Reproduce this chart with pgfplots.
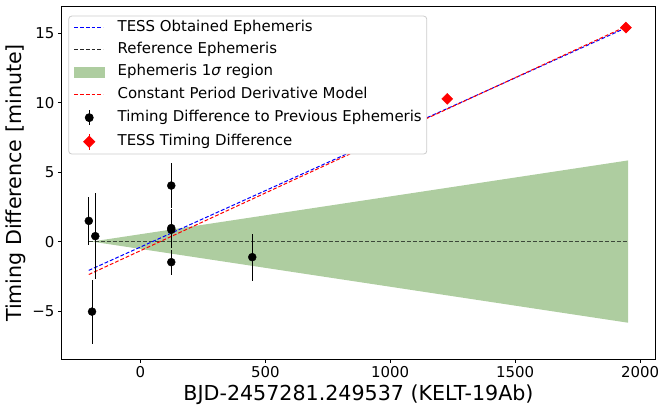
\documentclass[border=0pt]{standalone}
\usepackage{fontspec}
\setmainfont{DejaVu Sans}
\usepackage{pgfplots}
\pgfplotsset{compat=1.18}
\definecolor{sigmagreen}{RGB}{52,130,17}
\definecolor{patchgreen}{RGB}{174,205,160}
\definecolor{refline}{RGB}{60,72,58}
\definecolor{pureblue}{RGB}{0,0,255}
\definecolor{legbg}{RGB}{255,255,255}
\pgfplotsset{
  blueleg/.style={legend image code/.code={\begin{scope}\color{pureblue}\pgfsetstrokecolor{pureblue}\draw[draw=pureblue, sharp corners, line width=1.1bp, dash pattern=on 3.8bp off 2bp] (0bp,0bp)--(29bp,0bp);\end{scope}}},
  blackleg/.style={legend image code/.code={\draw[black!85, sharp corners, line width=1.1bp, dash pattern=on 3.8bp off 2bp] (0bp,0bp)--(29bp,0bp);}},
  redleg/.style={legend image code/.code={\draw[red, sharp corners, line width=1.1bp, dash pattern=on 3.8bp off 2bp] (0bp,0bp)--(29bp,0bp);}},
  myptleg/.style={legend image code/.code={\draw[black, sharp corners, line width=0.9bp] (15bp,-7.5bp)--(15bp,7.5bp); \fill[black] (15bp,0bp) circle (4bp);}},
  mydiamleg/.style={legend image code/.code={\draw[red, sharp corners, line width=0.9bp] (15bp,-7.8bp)--(15bp,7.8bp); \fill[red, sharp corners] (15bp,5.5bp)--(20.5bp,0bp)--(15bp,-5.5bp)--(9.5bp,0bp)--cycle;}},
  mypatchleg/.style={legend image code/.code={\fill[patchgreen, sharp corners] (0bp,-5.2bp) rectangle (30bp,5.2bp);}},
}

\begin{document}
\begin{tikzpicture}
\begin{axis}[
  scale only axis, width=594.4bp, height=352.6bp,
  xmin=-316, xmax=2062, ymin=-8.47, ymax=16.9,
  axis line style={line width=0.8bp},
  tick align=outside, tick pos=left,
  major tick length=3.5bp,
  every tick/.style={black, line width=0.8bp},
  xtick={0,500,1000,1500,2000},
  xticklabels={0,500,1000,1500,2000},
  ytick={-5,0,5,10,15},
  yticklabels={−5,0,5,10,15},
  ticklabel style={font=\fontsize{15}{18}\selectfont},
  xlabel={BJD-2457281.249537 (KELT-19Ab)},
  ylabel={Timing Difference [minute]},
  label style={font=\fontsize{20.7}{24}\selectfont},
  legend style={at={(0,1)}, anchor=north west, xshift=7bp, yshift=-9bp,
    draw=black!20, line width=0.8bp, rounded corners=3bp,
    fill=legbg,
    font=\fontsize{15}{18}\selectfont,
    inner xsep=5bp, inner ysep=4bp, row sep=7.9bp, column sep=13bp,
    cells={anchor=west},
    nodes={inner sep=0bp, text height=11bp, text depth=3.5bp}},
]
\addlegendimage{blueleg}
\addlegendentry{TESS Obtained Ephemeris}
\addlegendimage{blackleg}
\addlegendentry{Reference Ephemeris}
\addlegendimage{mypatchleg}
\addlegendentry{Ephemeris 1\textit{σ} region}
\addlegendimage{redleg}
\addlegendentry{Constant Period Derivative Model}
\addlegendimage{myptleg}
\addlegendentry{Timing Difference to Previous Ephemeris}
\addlegendimage{mydiamleg}
\addlegendentry{TESS Timing Difference}

% 1 sigma region
\addplot[forget plot, draw=none, fill=sigmagreen, fill opacity=0.4] coordinates {(-194,0) (1952,5.84) (1952,-5.84)} -- cycle;
% reference ephemeris
\addplot[forget plot, refline, line width=1.5bp, dash pattern=on 3.8bp off 2.2bp] coordinates {(-206,0) (1952,0)};
% TESS obtained ephemeris
\addplot[forget plot, blue, line width=1bp, dash pattern=on 3.8bp off 2bp] coordinates {(-206,-2.07) (1952,15.45)};
% constant period derivative model
\addplot[forget plot, red, line width=1bp, dash pattern=on 3.8bp off 2bp] coordinates {(-206,-2.37) (1952,15.55)};
% timing differences
\addplot[forget plot, only marks, mark=*, mark size=4bp, black,
  error bars/.cd, y dir=both, y explicit, error mark=none,
  error bar style={line width=0.9bp, black}]
  table[x=x, y=y, y error=e] {
x y e
-206 1.49 1.70
-180 0.39 3.10
-193 -5.04 2.30
124 4.03 1.60
124 0.97 1.40
124 0.85 1.30
124 -1.48 0.90
448 -1.12 1.70
};
% TESS timing difference
\addplot[forget plot, only marks, mark=square*, mark size=3.9bp, red, mark options={rotate=45},
  error bars/.cd, y dir=both, y explicit, error mark=none,
  error bar style={line width=0.9bp, red}]
  table[x=x, y=y, y error=e] {
x y e
1228 10.27 0.30
1943 15.40 0.30
};
\coordinate (sw) at (rel axis cs:0,0);
\coordinate (ne) at (rel axis cs:1,1);
\end{axis}
\pgfresetboundingbox
\path[use as bounding box] ([xshift=-61.3bp,yshift=-49.7bp]sw) rectangle ([xshift=7.3bp,yshift=6.7bp]ne);
\end{tikzpicture}
\end{document}
